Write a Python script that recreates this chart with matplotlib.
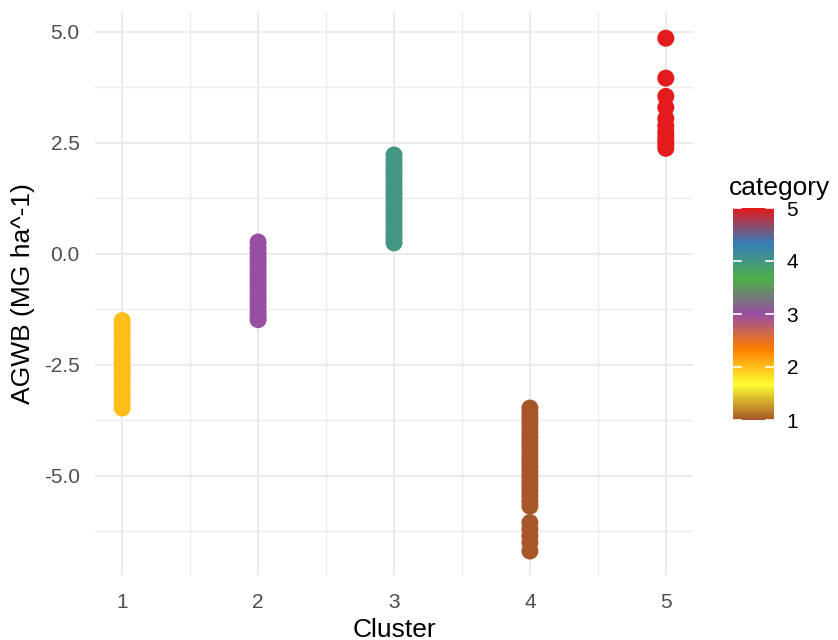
import matplotlib
matplotlib.use("Agg")
import matplotlib.pyplot as plt
import numpy as np
from matplotlib.colors import LinearSegmentedColormap

plt.rcParams["font.family"] = ["Liberation Sans", "DejaVu Sans"]

# AGWB values per cluster
cluster1_y = [-1.50, -1.60, -1.71, -1.80, -1.92, -2.03, -2.14, -2.25, -2.36, -2.47,
              -2.58, -2.69, -2.80, -2.91, -3.02, -3.13, -3.24, -3.35, -3.47]
cluster2_y = [0.27, 0.13, 0.02, -0.09, -0.20, -0.31, -0.42, -0.53, -0.64, -0.75,
              -0.86, -0.97, -1.08, -1.19, -1.30, -1.41, -1.48]
cluster3_y = [2.23, 2.12, 2.01, 1.90, 1.79, 1.68, 1.57, 1.46, 1.35, 1.24, 1.13,
              1.02, 0.91, 0.80, 0.69, 0.58, 0.47, 0.36, 0.25]
cluster4_y = [-3.47, -3.58, -3.69, -3.80, -3.91, -4.02, -4.13, -4.24, -4.35, -4.46,
              -4.57, -4.68, -4.79, -4.90, -5.01, -5.12, -5.23, -5.34, -5.45, -5.56,
              -5.68, -6.05, -6.20, -6.35, -6.50, -6.69]
cluster5_y = [4.86, 3.96, 3.55, 3.30, 3.05, 2.88, 2.75, 2.65, 2.55, 2.47, 2.38]

clusters = [1, 2, 3, 4, 5]
cluster_values = [cluster1_y, cluster2_y, cluster3_y, cluster4_y, cluster5_y]
categories = [2, 3, 4, 1, 5]

# Set1-derived palette running from category 1 to 5
palette = ["#A65628", "#FFFF33", "#FF7F00", "#984EA3", "#4DAF4A", "#377EB8", "#E41A1C"]
cmap = LinearSegmentedColormap.from_list("cat", palette, N=300)
norm = plt.Normalize(1, 5)

xs, ys, cs = [], [], []
for cl, vals, cat in zip(clusters, cluster_values, categories):
    xs += [cl] * len(vals)
    ys += vals
    cs += [cat] * len(vals)

fig = plt.figure(figsize=(8.38, 6.4), dpi=100)
ax = fig.add_axes([95 / 838, 1 - 575 / 640, (693 - 95) / 838, (575 - 12) / 640])

grid_col = "#EBEBEB"
for v in [1.5, 2.5, 3.5, 4.5]:
    ax.axvline(v, color=grid_col, lw=1.0, zorder=0)
for v in [-6.25, -3.75, -1.25, 1.25, 3.75]:
    ax.axhline(v, color=grid_col, lw=1.0, zorder=0)
for v in clusters:
    ax.axvline(v, color=grid_col, lw=1.5, zorder=0)
for v in [-5.0, -2.5, 0.0, 2.5, 5.0]:
    ax.axhline(v, color=grid_col, lw=1.5, zorder=0)

ax.scatter(xs, ys, c=cs, cmap=cmap, norm=norm, s=150, edgecolors="none", zorder=3)

ax.set_xlim(0.8, 5.2)
ax.set_ylim(-7.23, 5.45)
ax.set_xticks(clusters)
ax.set_xticklabels([str(c) for c in clusters])
ax.set_yticks([-5.0, -2.5, 0.0, 2.5, 5.0])
ax.set_yticklabels(["-5.0", "-2.5", "0.0", "2.5", "5.0"])
ax.tick_params(length=0, labelsize=15, colors="#4D4D4D")
ax.tick_params(axis="x", pad=13)
ax.tick_params(axis="y", pad=11)
for s in ax.spines.values():
    s.set_visible(False)
ax.set_xlabel("Cluster", fontsize=19, color="black", labelpad=4)
ax.set_ylabel("AGWB (MG ha^-1)", fontsize=19, color="black", labelpad=6)

# colour bar legend
cax = fig.add_axes([733 / 838, 1 - 420 / 640, 41 / 838, 212 / 640])
grad = np.linspace(1, 5, 300).reshape(-1, 1)
cax.imshow(grad, aspect="auto", cmap=cmap, norm=norm, origin="lower",
           extent=[0, 1, 1, 5])
for t in [1, 2, 3, 4, 5]:
    cax.plot([0, 0.2], [t, t], color="white", lw=1.2)
    cax.plot([0.8, 1], [t, t], color="white", lw=1.2)
cax.set_xlim(0, 1)
cax.set_ylim(1, 5)
cax.set_xticks([])
cax.yaxis.tick_right()
cax.set_yticks([1, 2, 3, 4, 5])
cax.tick_params(length=0, labelsize=15, colors="black", pad=9)
for s in cax.spines.values():
    s.set_visible(False)
fig.text(729 / 838, 1 - 188 / 640, "category", fontsize=19, ha="left", va="center")

fig.savefig("out.png", dpi=100)
